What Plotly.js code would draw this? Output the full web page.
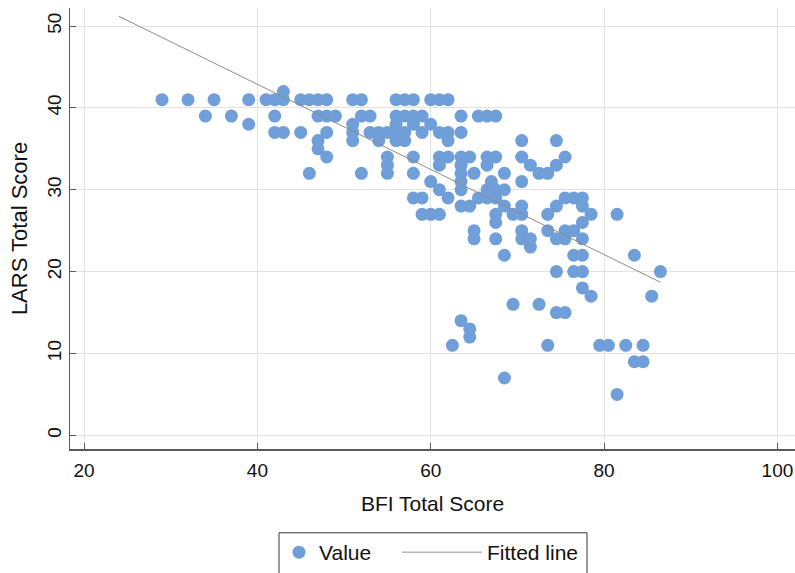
<!DOCTYPE html>
<html>
<head>
<meta charset="utf-8">
<script src="https://cdn.plot.ly/plotly-3.0.1.min.js"></script>
<style>html,body{margin:0;padding:0;background:#fff;}#chart{width:795px;height:573px;}</style>
</head>
<body>
<div id="chart"></div>
<script>
// BFI Total Score (x) and LARS Total Score (y)
var bfi = [
  29,32,35,34,37,39,39,41,42,43,43,42,42,43,45,45,
  46,47,48,47,48,49,48,47,47,48,46,
  51,52,52,53,51,51,51,52,
  53,54,55,54,55,55,55,
  56,57,58,56,57,58,59,56,58,60,56,57,59,56,57,
  60,61,62,
  58,58,58,59,59,60,61,60,61,
  61,62,63.5,62,63.5,
  65.5,66.5,67.5,
  61,62,63.5,64.5,66.5,67.5,
  61,63.5,66.5,
  63.5,65,68.5,
  63.5,67,
  63.5,66.5,67.5,68.5,
  62,65.5,66.5,67.5,
  63.5,64.5,68.5,70.5,
  67.5,69.5,70.5,
  67.5,
  65,65,67.5,68.5,
  70.5,74.5,70.5,71.5,72.5,73.5,74.5,75.5,70.5,
  73.5,74.5,75.5,76.5,77.5,77.5,78.5,77.5,
  73.5,75.5,76.5,74.5,75.5,77.5,70.5,70.5,71.5,71.5,
  76.5,77.5,74.5,76.5,77.5,77.5,78.5,
  81.5,83.5,86.5,85.5,
  63.5,64.5,64.5,62.5,68.5,69.5,72.5,73.5,74.5,75.5,
  79.5,80.5,82.5,84.5,83.5,84.5,81.5
];
var lars = [
  41,41,41,39,39,41,38,41,41,41,42,39,37,37,41,37,
  41,41,41,39,39,39,37,36,35,34,32,
  41,41,39,39,38,37,36,32,
  37,37,37,36,34,33,32,
  41,41,41,39,39,39,39,38,38,38,37,37,37,36,36,
  41,41,41,
  34,32,29,29,27,27,27,31,30,
  37,37,37,36,39,
  39,39,39,
  34,34,34,34,34,34,
  33,33,33,
  32,32,32,
  31,31,
  30,30,30,30,
  29,29,29,29,
  28,28,28,28,
  27,27,27,
  26,
  25,24,24,22,
  36,36,34,33,32,32,33,34,31,
  27,28,29,29,29,28,27,26,
  25,25,25,24,24,24,25,24,24,23,
  22,22,20,20,20,18,17,
  27,22,20,17,
  14,13,12,11,7,16,16,11,15,15,
  11,11,11,11,9,9,5
];
// Fitted line end points
var fitX = [24, 86.5];
var fitY = [51.2, 18.7];

var xTicks = [20, 40, 60, 80, 100];
var yTicks = [0, 10, 20, 30, 40, 50];

var font = 'Liberation Sans, Arial, Helvetica, sans-serif';

var traces = [
  {
    x: bfi, y: lars, type: 'scatter', mode: 'markers', name: 'Value', legend: 'legend',
    marker: {color: 'rgb(111,158,216)', size: 13, line: {width: 0}}
  },
  {
    x: fitX, y: fitY, type: 'scatter', mode: 'lines', name: 'Fitted line', legend: 'legend2',
    line: {color: 'rgb(140,140,140)', width: 1}
  }
];

var axisCommon = {
  showgrid: true, gridcolor: '#e2e2e2', gridwidth: 1,
  zeroline: false, showline: true, linecolor: '#5a5a5a', linewidth: 1.5,
  ticks: 'inside', ticklen: 6, tickcolor: '#5a5a5a', tickwidth: 1,
  tickfont: {family: font, size: 19, color: '#111'},
  mirror: false, fixedrange: true
};

// plot area: x 70..795 px, y 8..450 px
function px2x(p) { return (p - 70) / 725; }
function px2y(p) { return (450 - p) / 442; }

var legendCommon = {
  orientation: 'h', yanchor: 'top', y: px2y(533), xanchor: 'left',
  borderwidth: 0, bgcolor: 'rgba(0,0,0,0)',
  font: {family: font, size: 21, color: '#111'}
};

var layout = {
  width: 795, height: 573,
  margin: {l: 70, r: 0, t: 8, b: 123, pad: 0},
  paper_bgcolor: '#fff', plot_bgcolor: '#fff',
  font: {family: font, color: '#111'},
  showlegend: true,
  xaxis: Object.assign({}, axisCommon, {
    range: [18.38, 102.03], tickmode: 'array', tickvals: xTicks, ticktext: xTicks.map(String),
    ticklabelstandoff: 4,
    title: {text: 'BFI Total Score', font: {family: font, size: 21, color: '#111'}, standoff: 16}
  }),
  yaxis: Object.assign({}, axisCommon, {
    range: [-1.67, 52.2], tickmode: 'array', tickvals: yTicks, ticktext: yTicks.map(String),
    tickangle: -90,
    title: {text: 'LARS Total Score', font: {family: font, size: 22, color: '#111'}, standoff: 10}
  }),
  legend: Object.assign({}, legendCommon, {x: px2x(279), itemwidth: 30}),
  legend2: Object.assign({}, legendCommon, {x: px2x(397), itemwidth: 80}),
  shapes: [{
    type: 'rect', xref: 'paper', yref: 'paper',
    x0: px2x(279), x1: px2x(587), y0: px2y(534), y1: px2y(590),
    line: {color: '#333', width: 1}, fillcolor: 'rgba(0,0,0,0)', layer: 'above'
  }]
};

Plotly.newPlot('chart', traces, layout, {displayModeBar: false, staticPlot: true});
</script>
</body>
</html>
